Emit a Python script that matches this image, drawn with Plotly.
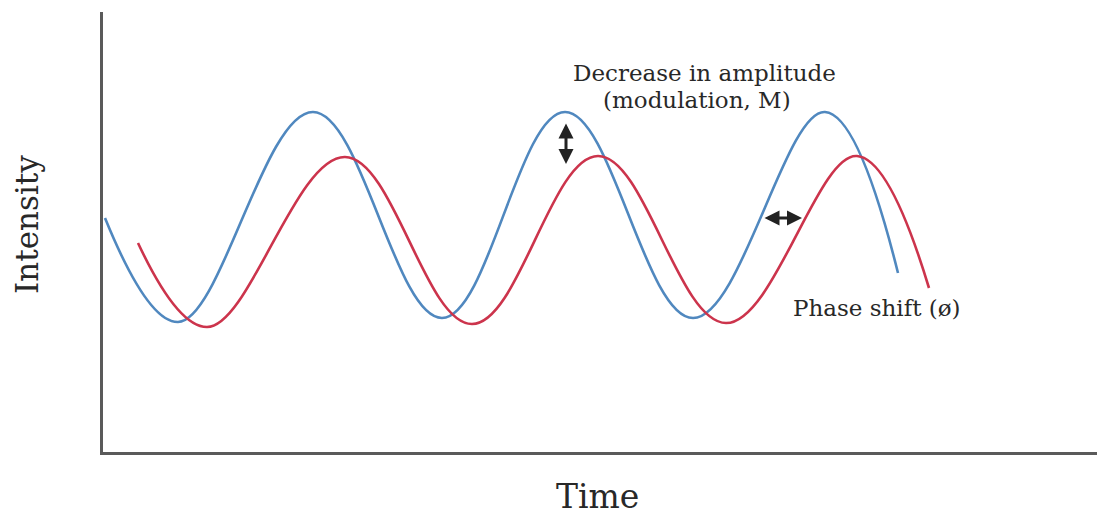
import plotly.graph_objects as go

# Values (time / intensity in arbitrary units)
blue_time = [2, 75, 210, 339, 462, 590, 722, 795]
blue_intensity = [234, 130, 340, 134, 340, 134, 340, 179]

red_time = [35, 104, 242, 369, 495, 623, 754, 826]
red_intensity = [209, 125, 295, 128, 296, 129, 296, 164]

BLUE = "#5088bf"
RED = "#cc344c"
FONT = "DejaVu Serif"
TXT = "#282828"

fig = go.Figure()
fig.add_trace(go.Scatter(x=blue_time, y=blue_intensity, mode="lines",
                         line=dict(color=BLUE, width=2.6, shape="spline", smoothing=1.1),
                         name="Excitation", showlegend=False, hoverinfo="skip"))
fig.add_trace(go.Scatter(x=red_time, y=red_intensity, mode="lines",
                         line=dict(color=RED, width=2.6, shape="spline", smoothing=1.1),
                         name="Emission", showlegend=False, hoverinfo="skip"))

annos = []
# double arrows
annos.append(dict(x=463, y=288, ax=463, ay=330, xref="x", yref="y", axref="x", ayref="y",
                  showarrow=True, arrowside="end+start", arrowhead=2, arrowsize=1,
                  arrowwidth=3, arrowcolor="#222222", text=""))
annos.append(dict(x=699, y=234, ax=660, ay=234, xref="x", yref="y", axref="x", ayref="y",
                  showarrow=True, arrowside="end+start", arrowhead=2, arrowsize=1,
                  arrowwidth=3, arrowcolor="#222222", text=""))
# texts
annos.append(dict(x=601, y=379, xref="x", yref="y", text="Decrease in amplitude",
                  xanchor="center", yanchor="middle",
                  showarrow=False, font=dict(family=FONT, size=23, color=TXT)))
annos.append(dict(x=594, y=352, xref="x", yref="y", text="(modulation, M)",
                  xanchor="center", yanchor="middle",
                  showarrow=False, font=dict(family=FONT, size=23, color=TXT)))
annos.append(dict(x=774, y=144, xref="x", yref="y", text="Phase shift (ø)",
                  xanchor="center", yanchor="middle",
                  showarrow=False, font=dict(family=FONT, size=23, color=TXT)))
annos.append(dict(x=-0.0762, y=0.516, xref="paper", yref="paper", text="Intensity",
                  xanchor="center", yanchor="middle",
                  textangle=-90, showarrow=False, font=dict(family=FONT, size=31, color=TXT)))
annos.append(dict(x=0.4955, y=-0.102, xref="paper", yref="paper", text="Time",
                  xanchor="center", yanchor="middle",
                  showarrow=False, font=dict(family=FONT, size=33, color=TXT)))

axis_common = dict(showline=True, linecolor="#5a5a5a", linewidth=3, showgrid=False,
                   zeroline=False, showticklabels=False, ticks="", mirror=False, fixedrange=True)

fig.update_layout(
    width=1097, height=510,
    margin=dict(l=95, r=5, t=4, b=66),
    paper_bgcolor="white", plot_bgcolor="white",
    xaxis=dict(range=[0, 997], **axis_common),
    yaxis=dict(range=[0, 440], **axis_common),
    annotations=annos,
    showlegend=False,
)

fig.write_html("out.html")
